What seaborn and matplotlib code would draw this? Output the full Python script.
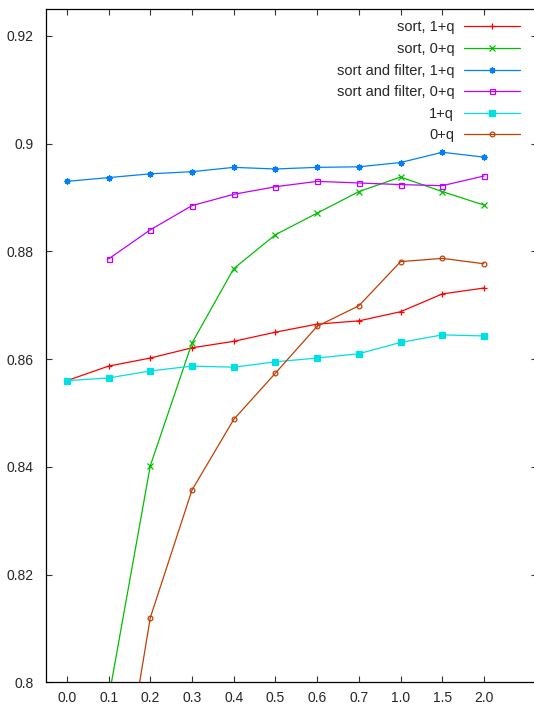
import numpy as np
import pandas as pd
import matplotlib
matplotlib.use("Agg")
import matplotlib.pyplot as plt
import seaborn as sns

# x categories (equally spaced on the axis)
x_labels = ["0.0", "0.1", "0.2", "0.3", "0.4", "0.5", "0.6", "0.7", "1.0", "1.5", "2.0"]

sort_1q = [0.8560, 0.8587, 0.8602, 0.8621, 0.8633, 0.8650, 0.8665, 0.8671, 0.8688, 0.8721, 0.8732]
sort_0q = [0.740, 0.797, 0.8402, 0.8630, 0.8768, 0.8831, 0.8871, 0.8911, 0.8938, 0.8911, 0.8886]
filt_1q = [0.8930, 0.8937, 0.8944, 0.8948, 0.8956, 0.8953, 0.8956, 0.8957, 0.8965, 0.8984, 0.8975]
filt_0q = [np.nan, 0.8786, 0.8840, 0.8885, 0.8906, 0.8920, 0.8930, 0.8927, 0.8924, 0.8922, 0.8940]
base_1q = [0.8560, 0.8565, 0.8578, 0.8587, 0.8585, 0.8595, 0.8602, 0.8610, 0.8631, 0.8645, 0.8643]
base_0q = [0.700, 0.765, 0.8120, 0.8357, 0.8488, 0.8574, 0.8661, 0.8699, 0.8781, 0.8787, 0.8777]

series = [
    ("sort, 1+q", sort_1q, "#ff0000", "+", None, 4.5),
    ("sort, 0+q", sort_0q, "#00c000", "x", None, 4),
    ("sort and filter, 1+q", filt_1q, "#0080ff", (8, 2, 0), None, 4.5),
    ("sort and filter, 0+q", filt_0q, "#c000ff", "s", "none", 3.6),
    ("1+q", base_1q, "#00e0e0", "s", None, 3.8),
    ("0+q", base_0q, "#c04000", "o", "none", 3.4),
]

sns.set_theme(style="ticks")
plt.rcParams["font.family"] = ["Liberation Sans", "DejaVu Sans"]

fig = plt.figure(figsize=(5.34, 7.06), dpi=100)
ax = fig.add_axes([46 / 534, 23.7 / 706, 491 / 534, 673.3 / 706])

idx = np.arange(len(x_labels))
for name, vals, col, mk, mfc, ms in series:
    df = pd.DataFrame({"x": idx, "y": vals})
    kw = dict(color=col, marker=mk, markersize=ms, linewidth=0.9,
              markeredgewidth=0.9, markeredgecolor=col, label=name)
    if mfc is not None:
        kw["markerfacecolor"] = mfc
    sns.lineplot(data=df, x="x", y="y", ax=ax, **kw)

ax.set_xlim(-0.5, 11.27)
ax.set_ylim(0.8, 0.925)
ax.set_xticks(idx)
ax.set_xticklabels(x_labels)
ax.set_yticks([0.8, 0.82, 0.84, 0.86, 0.88, 0.9, 0.92])
ax.set_yticklabels(["0.8", "0.82", "0.84", "0.86", "0.88", "0.9", "0.92"])
ax.set_xlabel("")
ax.set_ylabel("")
ax.tick_params(direction="in", length=4.3, width=0.8, color="#333333",
               top=True, right=True, labelsize=10, pad=6)
ax.tick_params(axis="y", pad=9)
for s in ax.spines.values():
    s.set_linewidth(0.9)
    s.set_color("black")

leg = ax.legend(loc="upper right", bbox_to_anchor=(0.965, 0.983), frameon=False,
                markerfirst=False, fontsize=10.5, handlelength=3.8,
                handletextpad=0.7, labelspacing=0.52, borderpad=0, borderaxespad=0)

fig.savefig("out.png", dpi=100)
